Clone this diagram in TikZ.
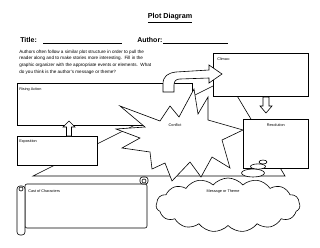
\documentclass[tikz,border=0pt]{standalone}
\usepackage{fontspec}
\setmainfont{Liberation Sans}
\usetikzlibrary{shapes.symbols}
\begin{document}
\begin{tikzpicture}[x=1pt,y=-1pt,line width=0.6pt,
  box/.style={draw, fill=white, inner sep=0pt, anchor=north west},
  lab/.style={font=\fontsize{3.8}{4.2}\selectfont, inner sep=0pt},
  blk/.style={draw, fill=white, line join=miter},
  para/.style={font=\fontsize{4.6}{6.8}\selectfont, inner sep=0pt, anchor=north west, align=left}]
\useasboundingbox (0,0) rectangle (320,247);
\fill[white] (0,0) rectangle (320,247);
% header
\node[inner sep=0pt, font=\bfseries\fontsize{7.2}{9}\selectfont] (head) at (170,18) {\underline{Plot Diagram}};
\node[inner sep=0pt, anchor=base west, font=\bfseries\fontsize{7}{9}\selectfont] (tlab) at (20,42.5) {Title:};
\coordinate (t1) at (43,43); \coordinate (t2) at (122,43);
\draw (t1) -- (t2);
\node[inner sep=0pt, anchor=base west, font=\bfseries\fontsize{7}{9}\selectfont] (alab) at (137,42.5) {Author:};
\coordinate (a1) at (163,43); \coordinate (a2) at (228,43);
\draw (a1) -- (a2);
\node[para] (intro) at (19,49.5) {Authors often follow a similar plot structure in order to pull the\\
reader along and to make stories more interesting.\ \ Fill in the\\
graphic organizer with the appropriate events or elements.\ \ What\\
do you think is the author's message or theme?};
% plot line
\coordinate (p0) at (33,176);
\coordinate (apex) at (227,79);
\coordinate (p2) at (285,176);
\draw (p0) -- (apex) -- (p2) -- cycle;
% boxes
\node[box, minimum width=175pt, minimum height=42pt] (rising) at (17,83) {};
\node[box, minimum width=80pt, minimum height=29pt] (expo) at (17,136) {};
\node[box, minimum width=95pt, minimum height=43pt] (climax) at (213,53) {};
\node[box, minimum width=65pt, minimum height=49pt] (resol) at (243,119) {};
% conflict star
\draw[fill=white, line join=miter] (120,106) -- (160,121) -- (170,106) -- (179,117) -- (194,89) -- (198,114)
  -- (208,97) -- (208,120) -- (243,130) -- (222,140) -- (230,168) -- (212,157) -- (201,177)
  -- (190,162) -- (172,181) -- (165,163) -- (152,169) -- (150,152) -- (122,148) -- (140,138)
  -- (116,129) -- (145,127) -- cycle;
% curved arrow rising -> climax
\draw[blk] (163,92) -- (163,84) .. controls (163,76) and (168,73) .. (176,72) -- (209,70)
  -- (209,65) -- (222,74) -- (209,83) -- (209,78) -- (180,79)
  .. controls (176,79) and (174,81) .. (174,85) -- (174,92) -- cycle;
% up arrow expo -> rising
\draw[blk] (66.5,136) -- (66.5,127) -- (63,127) -- (69,121) -- (75,127) -- (71.5,127) -- (71.5,136) -- cycle;
% down arrow climax -> resolution
\draw[blk] (263,97) -- (263,106) -- (260,106) -- (266,113) -- (272,106) -- (269,106) -- (269,97) -- cycle;
% scroll
\draw[fill=white, rounded corners=2pt] (25,184) -- (147,184) -- (147,228) -- (25,228) -- cycle;
\draw[fill=white, rounded corners=2.5pt] (140,184) -- (140,177) -- (148,177) -- (148,184) -- cycle;
\draw (144,181) circle (2);
\draw[fill=white, rounded corners=3pt] (17,186) -- (25,186) -- (25,235) -- (17,235) -- cycle;
\draw (21,189) circle (2);
% thought bubbles and cloud
\draw[fill=white] (263,162) ellipse (4 and 2);
\draw[fill=white] (258,166.5) ellipse (7.5 and 2.6);
\draw[fill=white] (253,173) ellipse (11.5 and 4);
\node[cloud, draw, fill=white, cloud puffs=15, cloud puff arc=100, aspect=2.6,
  minimum width=144pt, minimum height=54pt, inner sep=0pt] (msg) at (228,205) {};
% labels
\node[lab, anchor=north west] at ([xshift=4pt,yshift=-4pt]climax.north west) {Climax:};
\node[lab, anchor=north west] at ([xshift=2pt,yshift=-4pt]rising.north west) {Rising Action};
\node[lab, anchor=north west] at ([xshift=2pt,yshift=-3pt]expo.north west) {Exposition};
\node[lab] at ([yshift=-6pt]resol.north) {Resolution};
\node[lab] (conf) at (175,125) {Conflict};
\node[lab, anchor=west] at (28,191) {Cast of Characters};
\node[lab] at (223,192) {Message or Theme};
\end{tikzpicture}
\end{document}
